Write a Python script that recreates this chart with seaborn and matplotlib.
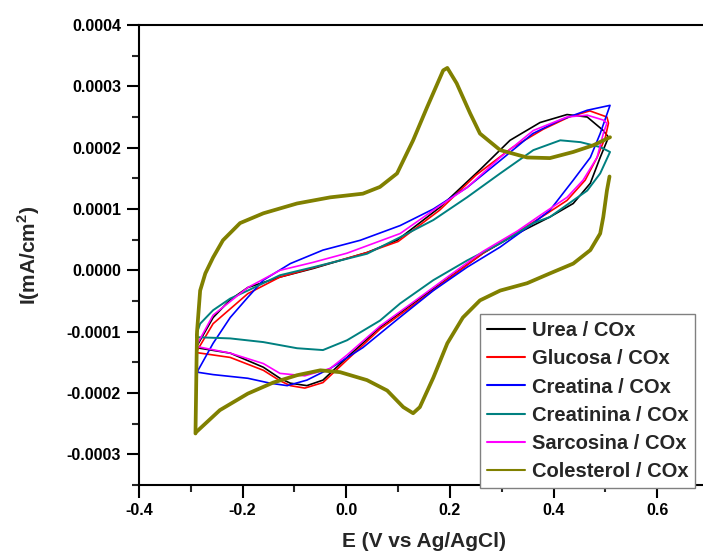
import matplotlib
matplotlib.use("Agg")
import matplotlib.pyplot as plt
from matplotlib.ticker import MultipleLocator, FormatStrFormatter
import numpy as np
import pandas as pd
import seaborn as sns

# Cyclic voltammograms: potential (V vs Ag/AgCl) and current density (x1e-4 mA/cm2)
# Each loop: forward scan (left -> right) followed by reverse scan (right -> left)
urea_E = [-0.29, -0.257, -0.224, -0.19, -0.128, -0.064, 0.04, 0.098, 0.181, 0.258, 0.316,
          0.374, 0.426, 0.465, 0.496, 0.506, 0.49, 0.471, 0.438, 0.393, 0.33, 0.264, 0.2,
          0.137, 0.065, 0.0015, -0.045, -0.076, -0.108, -0.128, -0.16, -0.224, -0.29]
urea_I = [-1.26, -0.77, -0.48, -0.28, -0.11, 0.03, 0.29, 0.49, 1.03, 1.64, 2.12,
          2.41, 2.54, 2.50, 2.28, 2.17, 1.84, 1.42, 1.09, 0.87, 0.60, 0.28, -0.11,
          -0.49, -0.93, -1.42, -1.79, -1.88, -1.84, -1.76, -1.58, -1.35, -1.26]

glucosa_E = [-0.29, -0.257, -0.19, -0.128, -0.064, 0.04, 0.10, 0.18, 0.25, 0.32, 0.38,
             0.43, 0.47, 0.503, 0.506, 0.5, 0.484, 0.461, 0.426, 0.388, 0.33, 0.264, 0.2,
             0.137, 0.065, 0.0015, -0.045, -0.08, -0.108, -0.128, -0.16, -0.224, -0.29]
glucosa_I = [-1.34, -0.87, -0.38, -0.11, 0.04, 0.29, 0.47, 0.98, 1.55, 2.00, 2.30,
             2.50, 2.60, 2.50, 2.40, 2.17, 1.84, 1.47, 1.14, 0.93, 0.62, 0.28, -0.12,
             -0.52, -0.96, -1.46, -1.83, -1.92, -1.88, -1.80, -1.63, -1.42, -1.34]

creatina_E = [-0.288, -0.257, -0.224, -0.19, -0.16, -0.108, -0.045, 0.027, 0.104, 0.168,
              0.233, 0.297, 0.36, 0.413, 0.465, 0.509, 0.49, 0.471, 0.438, 0.393, 0.361,
              0.297, 0.233, 0.168, 0.10, 0.032, -0.031, -0.076, -0.114, -0.147, -0.19,
              -0.257, -0.288]
creatina_I = [-1.66, -1.19, -0.77, -0.44, -0.16, 0.11, 0.33, 0.49, 0.73, 1.00,
              1.35, 1.79, 2.23, 2.45, 2.61, 2.69, 2.23, 1.84, 1.47, 0.98, 0.77,
              0.38, 0.05, -0.33, -0.79, -1.26, -1.60, -1.79, -1.88, -1.84, -1.76,
              -1.70, -1.66]

creatinina_E = [-0.29, -0.282, -0.257, -0.224, -0.19, -0.128, -0.064, 0.04, 0.104, 0.168,
                0.233, 0.297, 0.361, 0.413, 0.452, 0.49, 0.509, 0.49, 0.465, 0.438, 0.393,
                0.361, 0.297, 0.233, 0.168, 0.104, 0.065, 0.0015, -0.045, -0.095, -0.16,
                -0.224, -0.29]
creatinina_I = [-1.06, -0.87, -0.65, -0.46, -0.33, -0.08, 0.05, 0.27, 0.54, 0.82,
                1.19, 1.58, 1.96, 2.12, 2.09, 2.01, 1.93, 1.58, 1.30, 1.14, 0.87,
                0.77, 0.44, 0.16, -0.16, -0.54, -0.82, -1.14, -1.30, -1.27, -1.17,
                -1.11, -1.09]

sarcosina_E = [-0.29, -0.257, -0.19, -0.128, -0.064, 0.0015, 0.104, 0.168, 0.233, 0.297,
               0.361, 0.426, 0.465, 0.496, 0.503, 0.496, 0.484, 0.457, 0.426, 0.38, 0.33,
               0.264, 0.2, 0.137, 0.065, 0.0015, -0.031, -0.08, -0.128, -0.16, -0.224,
               -0.29]
sarcosina_I = [-1.24, -0.73, -0.28, 0.0, 0.13, 0.28, 0.60, 0.98, 1.35, 1.84,
               2.28, 2.50, 2.53, 2.45, 2.40, 2.23, 1.84, 1.47, 1.19, 0.93, 0.64,
               0.31, -0.08, -0.47, -0.91, -1.38, -1.60, -1.72, -1.68, -1.52, -1.35,
               -1.24]

# Cholesterol: the forward and reverse scans are recorded as separate traces
colesterol_ida_E = [-0.291, -0.290, -0.289, -0.288, -0.282, -0.272, -0.257, -0.238, -0.205,
                    -0.16, -0.095, -0.031, 0.032, 0.065, 0.098, 0.129, 0.156, 0.187, 0.195,
                    0.213, 0.239, 0.258, 0.297, 0.349, 0.393, 0.438, 0.477, 0.509]
colesterol_ida_I = [-2.66, -2.10, -1.50, -1.00, -0.33, -0.05, 0.21, 0.49, 0.77,
                    0.93, 1.09, 1.19, 1.25, 1.36, 1.58, 2.12, 2.66, 3.26, 3.30,
                    3.05, 2.56, 2.23, 1.96, 1.84, 1.83, 1.93, 2.04, 2.17]
colesterol_vuelta_E = [0.508, 0.503, 0.496, 0.49, 0.471, 0.438, 0.393, 0.349, 0.297, 0.258,
                       0.225, 0.195, 0.168, 0.142, 0.129, 0.11, 0.079, 0.04, -0.012, -0.05,
                       -0.095, -0.141, -0.19, -0.244, -0.29]
colesterol_vuelta_I = [1.53, 1.30, 0.87, 0.60, 0.33, 0.11, -0.05, -0.21, -0.33, -0.49,
                       -0.77, -1.19, -1.75, -2.23, -2.33, -2.23, -1.96, -1.79, -1.66, -1.63,
                       -1.71, -1.83, -2.01, -2.28, -2.64]

labels = ["Urea / COx", "Glucosa / COx", "Creatina / COx",
          "Creatinina / COx", "Sarcosina / COx", "Colesterol / COx"]
colors = ["#000000", "#ff0000", "#0000ff", "#008080", "#ff00ff", "#808000"]
widths = [1.2, 1.2, 1.2, 1.4, 1.2, 2.7]
traces = [
    [(urea_E, urea_I)],
    [(glucosa_E, glucosa_I)],
    [(creatina_E, creatina_I)],
    [(creatinina_E, creatinina_I)],
    [(sarcosina_E, sarcosina_I)],
    [(colesterol_ida_E, colesterol_ida_I), (colesterol_vuelta_E, colesterol_vuelta_I)],
]

frames = []
for name, parts in zip(labels, traces):
    for k, (e, i) in enumerate(parts):
        frames.append(pd.DataFrame({"E": e, "I": np.asarray(i) * 1e-4,
                                    "serie": name, "tramo": k}))
df = pd.concat(frames, ignore_index=True)

sns.set_theme(style="ticks")
plt.rcParams["font.family"] = ["Liberation Sans", "DejaVu Sans"]
plt.rcParams["font.weight"] = "bold"
plt.rcParams["mathtext.fontset"] = "custom"
plt.rcParams["mathtext.rm"] = "Liberation Sans:bold"
plt.rcParams["mathtext.bf"] = "Liberation Sans:bold"

fig = plt.figure(figsize=(7.03, 5.52), dpi=100)
ax = fig.add_axes([139 / 703, 67 / 552, 570 / 703, 460 / 552])

for name, col, lw in zip(labels, colors, widths):
    sub = df[df["serie"] == name]
    sns.lineplot(data=sub, x="E", y="I", units="tramo", sort=False, estimator=None,
                 color=col, linewidth=lw, ax=ax)

ax.set_xlim(-0.4, 0.7)
ax.set_ylim(-0.00035, 0.0004)
ax.xaxis.set_major_locator(MultipleLocator(0.2))
ax.xaxis.set_minor_locator(MultipleLocator(0.1))
ax.yaxis.set_major_locator(MultipleLocator(0.0001))
ax.yaxis.set_minor_locator(MultipleLocator(0.00005))
ax.xaxis.set_major_formatter(FormatStrFormatter("%.1f"))
ax.yaxis.set_major_formatter(FormatStrFormatter("%.4f"))

for side in ["left", "bottom", "top", "right"]:
    ax.spines[side].set_linewidth(1.5)
    ax.spines[side].set_color("black")

ax.tick_params(which="major", direction="out", length=9, width=1.5,
               labelsize=11.5, colors="black", pad=4)
ax.tick_params(which="minor", direction="out", length=5, width=1.5)
ax.tick_params(top=False, right=False, which="both")
for lab in ax.get_xticklabels() + ax.get_yticklabels():
    lab.set_fontweight("bold")

ax.set_xlabel("E (V vs Ag/AgCl)", fontsize=15, fontweight="bold", labelpad=10)
ax.set_ylabel(r"I(mA/cm$^{\mathbf{2}}$)", fontsize=15, fontweight="bold", labelpad=18)

handles = [plt.Line2D([], [], color=c, linewidth=1.5) for c in colors]
leg = ax.legend(handles, labels, loc="lower left", bbox_to_anchor=(0.598, -0.006),
                fontsize=14.5, frameon=True, fancybox=False, framealpha=1,
                edgecolor="#808080", handlelength=1.9, handletextpad=0.33,
                labelspacing=0.45, borderpad=0.35, borderaxespad=0)
leg.get_frame().set_linewidth(1.0)
for t in leg.get_texts():
    t.set_fontweight("bold")

fig.savefig("out.png", dpi=100)
